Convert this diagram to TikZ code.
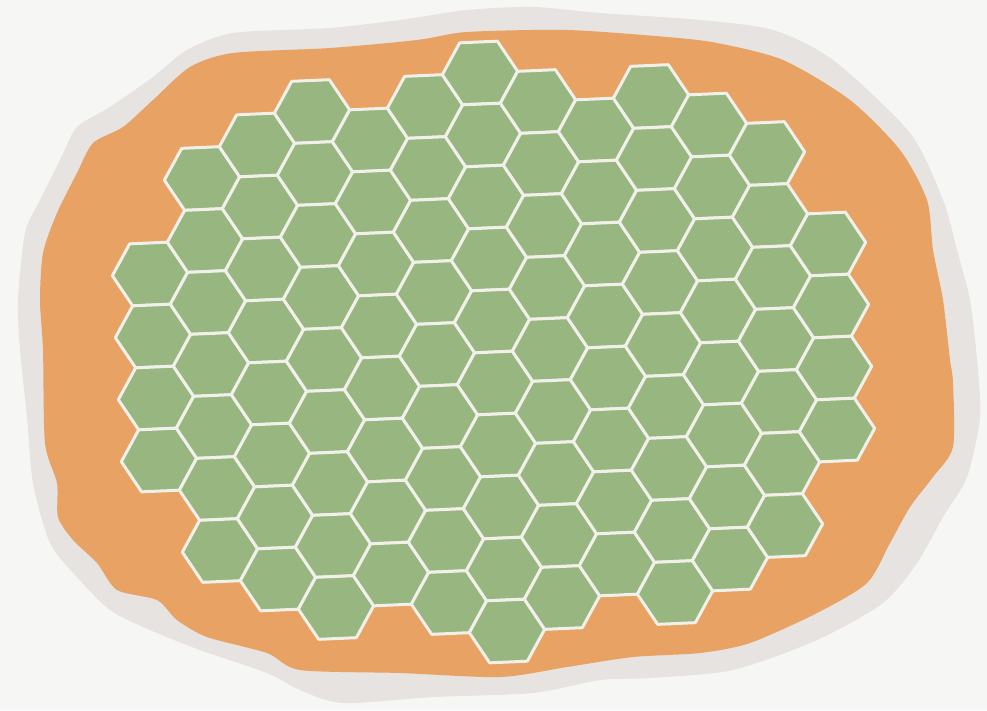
\documentclass[tikz,border=0pt]{standalone}
\usepackage{tikz}
\definecolor{paper}{HTML}{F6F6F5}
\definecolor{rimgray}{HTML}{E6E3E0}
\definecolor{soilorange}{HTML}{E8A263}
\definecolor{cellgreen}{HTML}{98B67F}
\definecolor{gapwhite}{HTML}{F2F0EA}
\tikzstyle{rim} = [fill=rimgray]
\tikzstyle{soil} = [fill=soilorange]
\tikzstyle{cell} = [fill=cellgreen, draw=gapwhite, line width=3pt, line join=round]

\begin{document}
\begin{tikzpicture}[x=1pt, y=-1pt]
    % Page and paper background
    \useasboundingbox (0,0) rectangle (987,710);
    \fill[paper] (0,0) rectangle (987,710);

    % We start with the grey rim and the orange patch inside it
    \fill[rim] plot[smooth cycle, tension=0.45] coordinates {
        (330,28) (400,20) (467,10) (533,7) (600,13) (700,20) (773,30) (833,60)
        (910,133) (943,200) (957,250) (970,300) (977,360) (980,417) (967,477)
        (943,517) (917,563) (883,603) (817,640) (733,670) (650,678) (600,680)
        (533,693) (433,697) (343,703) (300,690) (267,673) (200,650) (150,630)
        (110,610) (77,577) (50,543) (33,483) (27,417) (20,350) (18,300)
        (25,233) (40,200) (60,160) (77,127) (110,107) (153,77) (187,50) (233,33)};
    \fill[soil] plot[smooth cycle, tension=0.45] coordinates {
        (330,48) (417,40) (467,32) (567,30) (667,37) (717,43) (783,60) (850,100)
        (900,150) (927,200) (933,250) (943,300) (950,360) (953,383) (953,447)
        (933,477) (910,507) (890,543) (867,583) (817,613) (750,643) (700,653)
        (633,657) (567,667) (500,677) (400,673) (300,670) (267,653) (207,637)
        (177,620) (157,600) (117,590) (97,563) (73,540) (58,517) (57,483)
        (45,443) (43,350) (40,300) (43,253) (57,213) (77,173) (93,143)
        (123,127) (153,100) (190,67) (233,53)};

    % Then the hexagons, column by column (first and last row of each)
    \foreach \col/\mtop/\mbot in {0/0/3, 1/-1/5, 2/-1/6, 3/-1/7, 4/0/7, 5/0/8,
                                  6/0/9, 7/1/9, 8/2/9, 9/2/10, 10/3/10, 11/4/10, 12/6/9}
        \foreach \row in {\mtop,...,\mbot}
            \draw[cell, shift={({150+55*\col+3*\row}, {274-33.5*\col+62*\row})}]
                (37.67,-1.67) -- (20.33,30.17) -- (-17.33,31.83)
                -- (-37.67,1.67) -- (-20.33,-30.17) -- (17.33,-31.83) -- cycle;
\end{tikzpicture}
\end{document}
